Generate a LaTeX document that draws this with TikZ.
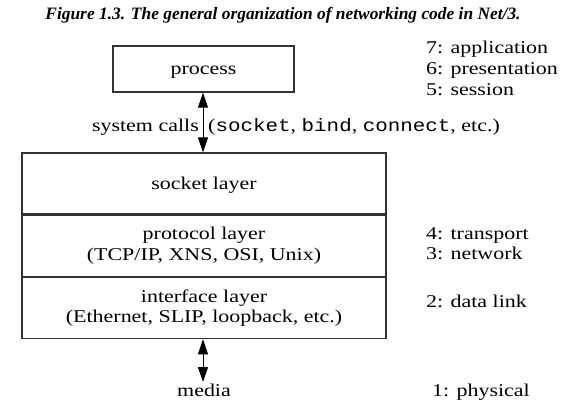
\documentclass[tikz,border=0pt]{standalone}
\usepackage{fontspec}
\setmainfont{Liberation Serif}[FakeStretch=1.22]
\setmonofont{Liberation Mono}[FakeStretch=1.16]
\newfontfamily\titlefont{Liberation Serif}
\usetikzlibrary{arrows.meta}
\begin{document}
\begin{tikzpicture}[x=1pt,y=-1pt,
  every node/.style={font=\fontsize{18}{20.5}\selectfont},
  box/.style={draw=black!80, line width=1.3pt, inner sep=0pt, align=center},
  lbl/.style={inner sep=0pt, anchor=base west},
  txt/.style={inner sep=0pt, anchor=base},
  darrow/.style={line width=1pt, {Triangle[length=15pt,width=10pt]}-{Triangle[length=15pt,width=10pt]}}]
\useasboundingbox (0,0) rectangle (588,415);
\node[inner sep=0pt, anchor=base, font=\titlefont\bfseries\itshape\fontsize{17.4}{19}\selectfont] (title) at (283,19) {Figure 1.3. The general organization of networking code in Net/3.};
\node[box, minimum width=181pt, minimum height=46pt, text height=14pt, text depth=4pt] (process) at (203.5,69) {process};
\node[box, minimum width=364pt, minimum height=61pt, text height=15pt, text depth=4pt] (socket) at (204,183.5) {socket layer};
\node[box, minimum width=364pt, minimum height=61pt, anchor=north] (protocol) at (socket.south) {protocol layer\\(TCP/IP, XNS, OSI, Unix)};
\node[box, minimum width=364pt, minimum height=61pt, anchor=north] (interface) at (protocol.south) {interface layer\\(Ethernet, SLIP, loopback, etc.)};
\node[txt] (media) at (204,396) {media};
\coordinate (a1) at (203,0);
\draw[darrow] (process.south -| a1) -- (socket.north -| a1);
\draw[darrow] (interface.south -| a1) -- (203,382) coordinate (mtop);
\node[inner sep=0pt, anchor=base east] (syscalls) at (199,131) {system calls};
\node[inner sep=0pt, anchor=base west] (calls) at (208,131) {(\texttt{socket}, \texttt{bind}, \texttt{connect}, etc.)};
\node[lbl] (l7) at (426,53) {7: application};
\node[lbl] (l6) at (426,74) {6: presentation};
\node[lbl] (l5) at (426,95) {5: session};
\node[lbl] (l4) at (426,239) {4: transport};
\node[lbl] (l3) at (426,259) {3: network};
\node[lbl] (l2) at (426,307) {2: data link};
\node[lbl] (l1) at (432,396) {1: physical};
\end{tikzpicture}
\end{document}
